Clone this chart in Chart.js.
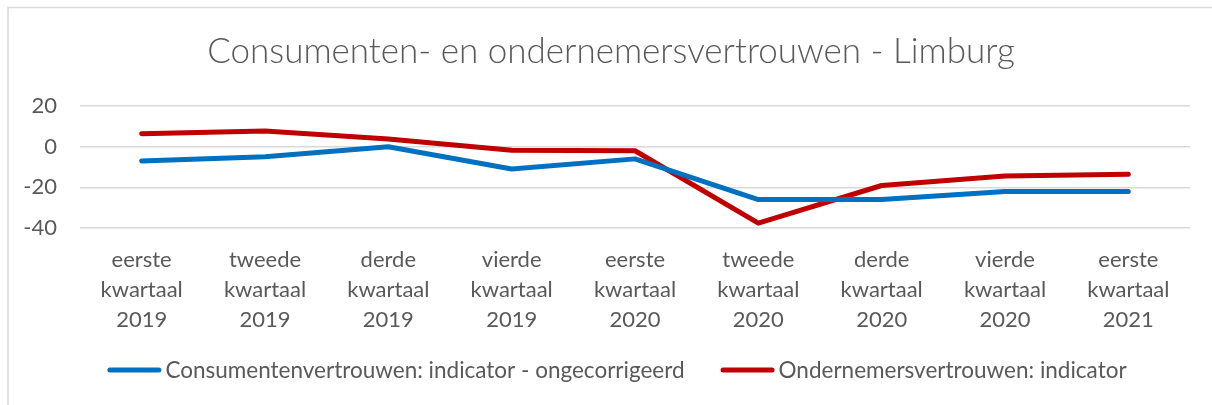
<!DOCTYPE html>
<html>
<head>
<meta charset="utf-8">
<script src="https://cdn.jsdelivr.net/npm/chart.js@4/dist/chart.umd.min.js"></script>
<style>
  html, body { margin: 0; padding: 0; background: #fff; overflow: hidden; }
  #wrap { position: relative; width: 1212px; height: 405px; overflow: hidden; }
  #c { position: absolute; left: 0; top: 0; }
</style>
</head>
<body>
<div id="wrap"><canvas id="c" width="1222" height="405"></canvas></div>
<script>
const categories = [
  ["eerste", "kwartaal", "2019"],
  ["tweede", "kwartaal", "2019"],
  ["derde", "kwartaal", "2019"],
  ["vierde", "kwartaal", "2019"],
  ["eerste", "kwartaal", "2020"],
  ["tweede", "kwartaal", "2020"],
  ["derde", "kwartaal", "2020"],
  ["vierde", "kwartaal", "2020"],
  ["eerste", "kwartaal", "2021"]
];
const consumentenvertrouwen = [-7, -5, 0, -11, -6, -26, -26, -22, -22];
const ondernemersvertrouwen = [6.4, 7.7, 3.8, -1.8, -2, -37.6, -19.1, -14.4, -13.6];
const seriesNames = ["Consumentenvertrouwen: indicator - ongecorrigeerd", "Ondernemersvertrouwen: indicator"];
const chartTitle = "Consumenten- en ondernemersvertrouwen - Limburg";
const yMin = -40, yMax = 20, yStep = 20;

const FONT = "Lato, 'Open Sans', sans-serif";
const TEXT = "#595959";

const borderPlugin = {
  id: 'outerBorder',
  beforeDraw(chart) {
    const ctx = chart.ctx;
    ctx.save();
    ctx.strokeStyle = '#d9d9d9';
    ctx.lineWidth = 1.5;
    ctx.beginPath();
    ctx.moveTo(8, 420);
    ctx.lineTo(8, 7.5);
    ctx.lineTo(1240, 7.5);
    ctx.stroke();
    ctx.restore();
  }
};

// Legend drawn at the bottom: line sample + label for each dataset
const bottomLegend = {
  id: 'bottomLegend',
  afterDraw(chart) {
    const ctx = chart.ctx;
    const y = 370;
    const lineLen = 54, lineGap = 4, itemGap = 36;
    ctx.save();
    ctx.font = "22.5px " + FONT;
    ctx.textBaseline = 'middle';
    ctx.textAlign = 'left';
    const items = chart.data.datasets.map(ds => ({
      text: ds.label, color: ds.borderColor, w: ctx.measureText(ds.label).width
    }));
    let total = 0;
    items.forEach((it, i) => { total += lineLen + lineGap + it.w + (i ? itemGap : 0); });
    let x = chart.width / 2 + 6 - total / 2;
    items.forEach((it, i) => {
      if (i) x += itemGap;
      ctx.strokeStyle = it.color;
      ctx.lineWidth = 5;
      ctx.lineCap = 'round';
      ctx.beginPath();
      ctx.moveTo(x + 2.5, y);
      ctx.lineTo(x + lineLen - 2.5, y);
      ctx.stroke();
      x += lineLen + lineGap;
      ctx.fillStyle = TEXT;
      ctx.fillText(it.text, x, y + 1);
      x += it.w;
    });
    ctx.restore();
  }
};

new Chart(document.getElementById('c'), {
  type: 'line',
  data: {
    labels: categories,
    datasets: [
      {
        label: seriesNames[0],
        data: consumentenvertrouwen,
        borderColor: '#0070c0',
        backgroundColor: '#0070c0',
        borderWidth: 5,
        pointRadius: 0,
        tension: 0,
        borderCapStyle: 'round',
        borderJoinStyle: 'round',
        yAxisID: 'y'
      },
      {
        label: seriesNames[1],
        data: ondernemersvertrouwen,
        borderColor: '#c00000',
        backgroundColor: '#c00000',
        borderWidth: 5,
        pointRadius: 0,
        tension: 0,
        borderCapStyle: 'round',
        borderJoinStyle: 'round',
        yAxisID: 'y'
      }
    ]
  },
  options: {
    responsive: false,
    animation: false,
    devicePixelRatio: 1,
    layout: { padding: { left: 0, right: 0, top: 0, bottom: 53 } },
    plugins: {
      title: {
        display: true,
        text: chartTitle,
        color: TEXT,
        font: { family: FONT, size: 35, weight: '300' },
        padding: { top: 31, bottom: 33 }
      },
      legend: { display: false },
      tooltip: { enabled: false }
    },
    scales: {
      x: {
        offset: true,
        grid: { display: false, drawTicks: false },
        border: { display: false },
        ticks: {
          color: TEXT,
          font: { family: FONT, size: 22, lineHeight: 1.36 },
          padding: 17,
          maxRotation: 0,
          autoSkip: false
        },
        afterFit(scale) { scale.height = 124; }
      },
      y: {
        min: yMin,
        max: yMax,
        grid: { color: '#d9d9d9', lineWidth: 1.5, drawTicks: false },
        border: { display: false },
        ticks: {
          stepSize: yStep,
          color: TEXT,
          font: { family: FONT, size: 22 },
          padding: 23
        },
        afterFit(scale) { scale.width = 80; }
      },
      yRightSpace: {
        position: 'right',
        min: yMin,
        max: yMax,
        grid: { display: false, drawTicks: false },
        border: { display: false },
        ticks: { display: false },
        afterFit(scale) { scale.width = 32; }
      }
    }
  },
  plugins: [borderPlugin, bottomLegend]
});
</script>
</body>
</html>
